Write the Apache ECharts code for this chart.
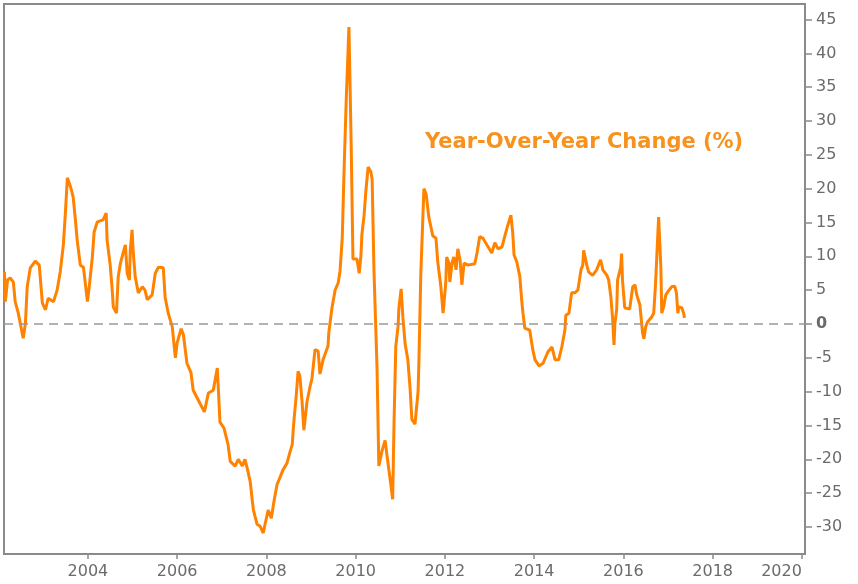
<!DOCTYPE html>
<html>
<head>
<meta charset="utf-8">
<script src="https://cdn.jsdelivr.net/npm/echarts@6/dist/echarts.min.js"></script>
<style>
  html, body { margin: 0; padding: 0; background: #fff; }
  #chart { width: 858px; height: 584px; }
</style>
</head>
<body>
<div id="chart"></div>
<script>
// decimal-year positions of the readings
const yearPos = [
  2002.13, 2002.15, 2002.20, 2002.26, 2002.33, 2002.37, 2002.44, 2002.55, 2002.60, 2002.64,
  2002.71, 2002.82, 2002.91, 2002.98, 2003.05, 2003.11, 2003.23, 2003.31, 2003.38, 2003.45,
  2003.49, 2003.54, 2003.61, 2003.67, 2003.72, 2003.76, 2003.83, 2003.90, 2003.99, 2004.03,
  2004.10, 2004.14, 2004.21, 2004.34, 2004.41, 2004.43, 2004.50, 2004.54, 2004.57, 2004.64,
  2004.68, 2004.73, 2004.79, 2004.84, 2004.88, 2004.93, 2004.95, 2004.99, 2005.02, 2005.06,
  2005.13, 2005.22, 2005.28, 2005.33, 2005.44, 2005.51, 2005.58, 2005.69, 2005.73, 2005.80,
  2005.89, 2005.96, 2006.00, 2006.09, 2006.14, 2006.22, 2006.31, 2006.36, 2006.47, 2006.61,
  2006.70, 2006.81, 2006.90, 2006.96, 2007.05, 2007.14, 2007.19, 2007.30, 2007.37, 2007.46,
  2007.52, 2007.57, 2007.64, 2007.68, 2007.71, 2007.79, 2007.86, 2007.90, 2007.93, 2007.97,
  2008.04, 2008.11, 2008.13, 2008.17, 2008.24, 2008.31, 2008.37, 2008.46, 2008.53, 2008.58,
  2008.60, 2008.62, 2008.67, 2008.71, 2008.75, 2008.80, 2008.84, 2008.91, 2008.98, 2009.02,
  2009.09, 2009.16, 2009.20, 2009.27, 2009.34, 2009.38, 2009.40, 2009.47, 2009.54, 2009.61,
  2009.65, 2009.70, 2009.72, 2009.74, 2009.79, 2009.85, 2009.87, 2009.90, 2009.94, 2010.03,
  2010.08, 2010.12, 2010.14, 2010.19, 2010.23, 2010.28, 2010.34, 2010.37, 2010.39, 2010.41,
  2010.48, 2010.52, 2010.59, 2010.66, 2010.70, 2010.72, 2010.79, 2010.83, 2010.86, 2010.90,
  2010.95, 2010.97, 2011.02, 2011.06, 2011.11, 2011.17, 2011.22, 2011.26, 2011.33, 2011.37,
  2011.40, 2011.42, 2011.46, 2011.53, 2011.58, 2011.64, 2011.73, 2011.80, 2011.84, 2011.91,
  2011.96, 2012.00, 2012.02, 2012.04, 2012.09, 2012.11, 2012.16, 2012.20, 2012.25, 2012.29,
  2012.34, 2012.38, 2012.43, 2012.52, 2012.67, 2012.72, 2012.78, 2012.85, 2012.94, 2013.05,
  2013.12, 2013.19, 2013.28, 2013.34, 2013.41, 2013.48, 2013.52, 2013.55, 2013.61, 2013.68,
  2013.72, 2013.75, 2013.79, 2013.90, 2013.97, 2014.02, 2014.11, 2014.20, 2014.31, 2014.40,
  2014.47, 2014.55, 2014.62, 2014.69, 2014.71, 2014.78, 2014.84, 2014.91, 2014.98, 2015.05,
  2015.09, 2015.11, 2015.18, 2015.22, 2015.31, 2015.40, 2015.49, 2015.54, 2015.63, 2015.67,
  2015.72, 2015.76, 2015.79, 2015.81, 2015.85, 2015.87, 2015.94, 2015.96, 2015.98, 2016.03,
  2016.14, 2016.21, 2016.26, 2016.30, 2016.37, 2016.43, 2016.46, 2016.50, 2016.54, 2016.63,
  2016.68, 2016.72, 2016.75, 2016.79, 2016.83, 2016.84, 2016.86, 2016.90, 2016.95, 2016.99,
  2017.08, 2017.15, 2017.19, 2017.22, 2017.24, 2017.31, 2017.35, 2017.37
];

// year-over-year change, %
const yoy = [
  7.7, 3.3, 6.5, 6.8, 6.2, 3.3, 1.6, -2.1, 0.1, 5.5,
  8.3, 9.3, 8.7, 3.1, 2.1, 3.8, 3.3, 5.0, 7.7, 11.7,
  15.8, 21.6, 20.3, 18.8, 15.4, 12.4, 8.7, 8.4, 3.3, 5.5,
  9.9, 13.6, 15.1, 15.4, 16.4, 12.4, 8.7, 5.5, 2.5, 1.6,
  7.0, 9.0, 10.5, 11.7, 7.5, 6.5, 10.9, 13.9, 10.2, 7.0,
  4.6, 5.5, 5.0, 3.6, 4.3, 7.5, 8.4, 8.3, 4.0, 1.6,
  -0.4, -5.0, -2.8, -0.7, -1.6, -5.8, -7.2, -9.8, -11.2, -13.0,
  -10.2, -9.8, -6.5, -14.5, -15.4, -17.8, -20.3, -21.0, -20.0, -21.0,
  -20.0, -21.3, -23.4, -25.9, -27.5, -29.6, -29.9, -30.0, -30.9, -29.6,
  -27.5, -28.7, -28.5, -26.2, -23.7, -22.6, -21.6, -20.6, -18.9, -17.8,
  -15.8, -14.1, -10.5, -7.0, -7.7, -11.5, -15.7, -11.5, -9.2, -8.1,
  -3.8, -4.0, -7.4, -5.3, -4.0, -3.3, -1.2, 2.4, 5.0, 6.1,
  7.8, 12.7, 17.6, 22.5, 33.3, 43.9, 43.9, 26.6, 9.6, 9.6,
  7.5, 10.2, 13.2, 16.1, 19.7, 23.2, 22.5, 21.4, 14.8, 8.1,
  -6.7, -21.0, -18.8, -17.2, -17.2, -20.3, -23.8, -25.9, -14.8, -3.3,
  -0.4, 2.4, 5.2, 0.9, -3.0, -5.3, -9.5, -14.1, -14.8, -14.8,
  -9.9, -5.0, 7.3, 20.0, 19.2, 15.8, 13.0, 12.7, 9.2, 5.5,
  1.6, 1.6, 6.1, 9.9, 9.0, 6.2, 9.0, 9.9, 8.0, 11.1,
  9.5, 5.8, 9.0, 8.7, 8.9, 10.5, 12.9, 12.7, 11.7, 10.5,
  12.0, 11.1, 11.4, 12.9, 14.6, 16.1, 13.5, 10.2, 9.2, 7.0,
  3.6, 1.6, -0.6, -0.9, -3.8, -5.3, -6.2, -5.8, -4.1, -3.4,
  -5.3, -5.3, -3.4, -0.9, 1.3, 1.6, 4.6, 4.6, 5.0, 8.0,
  8.7, 10.9, 8.7, 7.7, 7.2, 8.0, 9.5, 8.0, 7.2, 6.5,
  4.0, 0.6, -3.1, 0.1, 2.1, 6.5, 8.4, 10.4, 6.5, 2.4,
  2.2, 5.5, 5.8, 4.3, 2.8, -1.3, -2.2, -0.4, 0.3, 1.0,
  1.6, 5.8, 10.1, 15.8, 15.7, 8.4, 1.6, 2.5, 4.3, 4.7,
  5.5, 5.6, 4.6, 1.6, 2.5, 2.4, 1.6, 0.9
];

const xTicks = [2004, 2006, 2008, 2010, 2012, 2014, 2016, 2018, 2020];
const yTicks = [-30, -25, -20, -15, -10, -5, 0, 5, 10, 15, 20, 25, 30, 35, 40, 45];

const chart = echarts.init(document.getElementById('chart'));
const grey = '#8a8a8a';
const labelColor = '#6b6b6b';
const font = 'DejaVu Sans';

chart.setOption({
  animation: false,
  title: {
    text: 'Year-Over-Year Change (%)',
    left: 420,
    top: 127,
    textStyle: { color: '#f7921e', fontSize: 21, fontWeight: 'bold', fontFamily: font }
  },
  grid: {
    left: 4, right: 53, top: 4, bottom: 30,
    show: true, borderColor: grey, borderWidth: 2, backgroundColor: '#fff'
  },
  xAxis: {
    type: 'value',
    min: 2002.12,
    max: 2020.07,
    splitLine: { show: false },
    axisLine: { onZero: false, lineStyle: { color: grey, width: 2 } },
    axisTick: { customValues: xTicks, length: 5, lineStyle: { color: grey, width: 1.5 } },
    axisLabel: {
      customValues: xTicks,
      color: labelColor, fontSize: 16, fontFamily: font, margin: 10,
      alignMaxLabel: 'right',
      formatter: v => String(v)
    }
  },
  yAxis: {
    type: 'value',
    position: 'right',
    min: -34,
    max: 47.3,
    splitLine: { show: false },
    axisLine: { show: true, lineStyle: { color: grey, width: 2 } },
    axisTick: { show: true, customValues: yTicks, length: 7, lineStyle: { color: grey, width: 1.5 } },
    axisLabel: {
      customValues: yTicks,
      color: labelColor, fontSize: 16, fontFamily: font, margin: 11,
      formatter: v => v === 0 ? '{b|0}' : String(v),
      rich: { b: { fontWeight: 'bold', color: labelColor, fontSize: 16, fontFamily: font } }
    }
  },
  series: [{
    type: 'line',
    data: yearPos.map((t, i) => [t, yoy[i]]),
    showSymbol: false,
    lineStyle: { color: '#ff8200', width: 3 },
    markLine: {
      silent: true,
      symbol: 'none',
      label: { show: false },
      lineStyle: { color: '#999', type: [9, 6], width: 1.5 },
      data: [{ yAxis: 0 }]
    }
  }]
});
</script>
</body>
</html>
